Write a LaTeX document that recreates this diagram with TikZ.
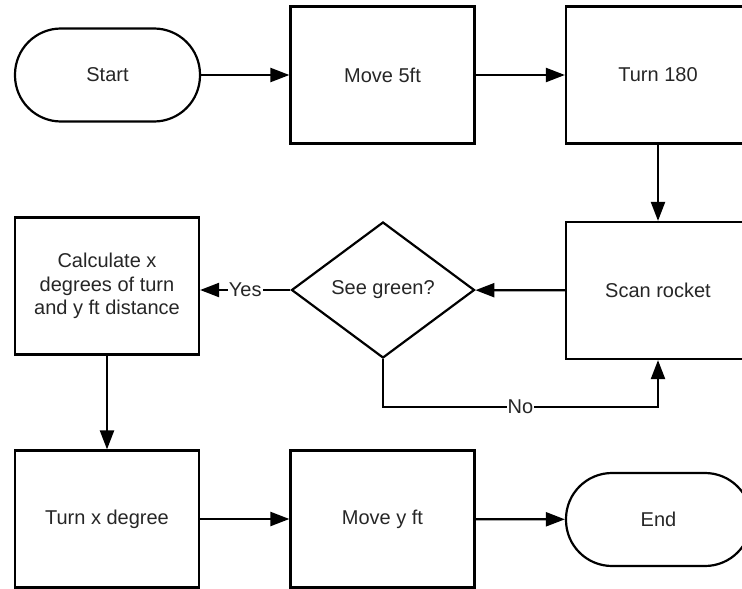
\documentclass[tikz,border=0pt]{standalone}
\usepackage{fontspec}
\setmainfont{Liberation Sans}
\usetikzlibrary{arrows.meta,shapes.geometric}
\definecolor{ink}{HTML}{000000}
\definecolor{txt}{HTML}{262626}
\begin{document}
\begin{tikzpicture}[x=1pt,y=-1pt,
  font=\fontsize{20}{23.5}\selectfont,
  every node/.style={text=txt},
  box/.style={draw=ink, line width=2.2pt, rectangle, minimum width=184pt,
    minimum height=137pt, inner sep=0pt, align=center},
  term/.style={draw=ink, line width=2.2pt, rectangle, rounded corners=46pt,
    minimum width=185pt, minimum height=93pt, inner sep=0pt},
  decision/.style={draw=ink, line width=2.2pt, diamond, minimum width=183pt,
    minimum height=136pt, inner sep=0pt},
  arr/.style={draw=ink, line width=2.2pt, -{Triangle[length=19pt,width=14pt]}},
  lbl/.style={fill=white, inner sep=1pt}
]
\useasboundingbox (0,0) rectangle (742,589);
\clip (0,0) rectangle (742,589);

% top row
\node[term] (start) at (107.5,75) {Start};
\node[box]  (move5) at (382.5,75) {Move 5ft};
\node[box]  (turn180) at (658,75) {Turn 180};

% middle row
\node[box]      (calc) at (107,286) {Calculate x\\degrees of turn\\and y ft distance};
\node[decision] (see)  at (383,290) {See green?};
\node[box]      (scan) at (658,290.5) {Scan rocket};

% bottom row
\node[box]  (turnx) at (107,519) {Turn x degree};
\node[box]  (movey) at (382.5,519) {Move y ft};
\node[term] (end)   at (658.5,519.5) {End};

% flow
\draw[arr] (start) -- (move5);
\draw[arr] (move5) -- (turn180);
\draw[arr] (turn180) -- (scan);
\draw[arr] (scan) -- (see);
\draw[arr] (see.west) -- node[lbl] {Yes} (see.west -| calc.east);
\draw[arr] (calc) -- (turnx);
\draw[arr] (turnx) -- (movey);
\draw[arr] (movey) -- (end);

% "No" loop back to the scan step
\coordinate (noend) at (658,407);
\draw[arr] (see.south) -- (see.south |- noend) -- node[lbl] {No} (noend) -- (scan.south);
\end{tikzpicture}
\end{document}
